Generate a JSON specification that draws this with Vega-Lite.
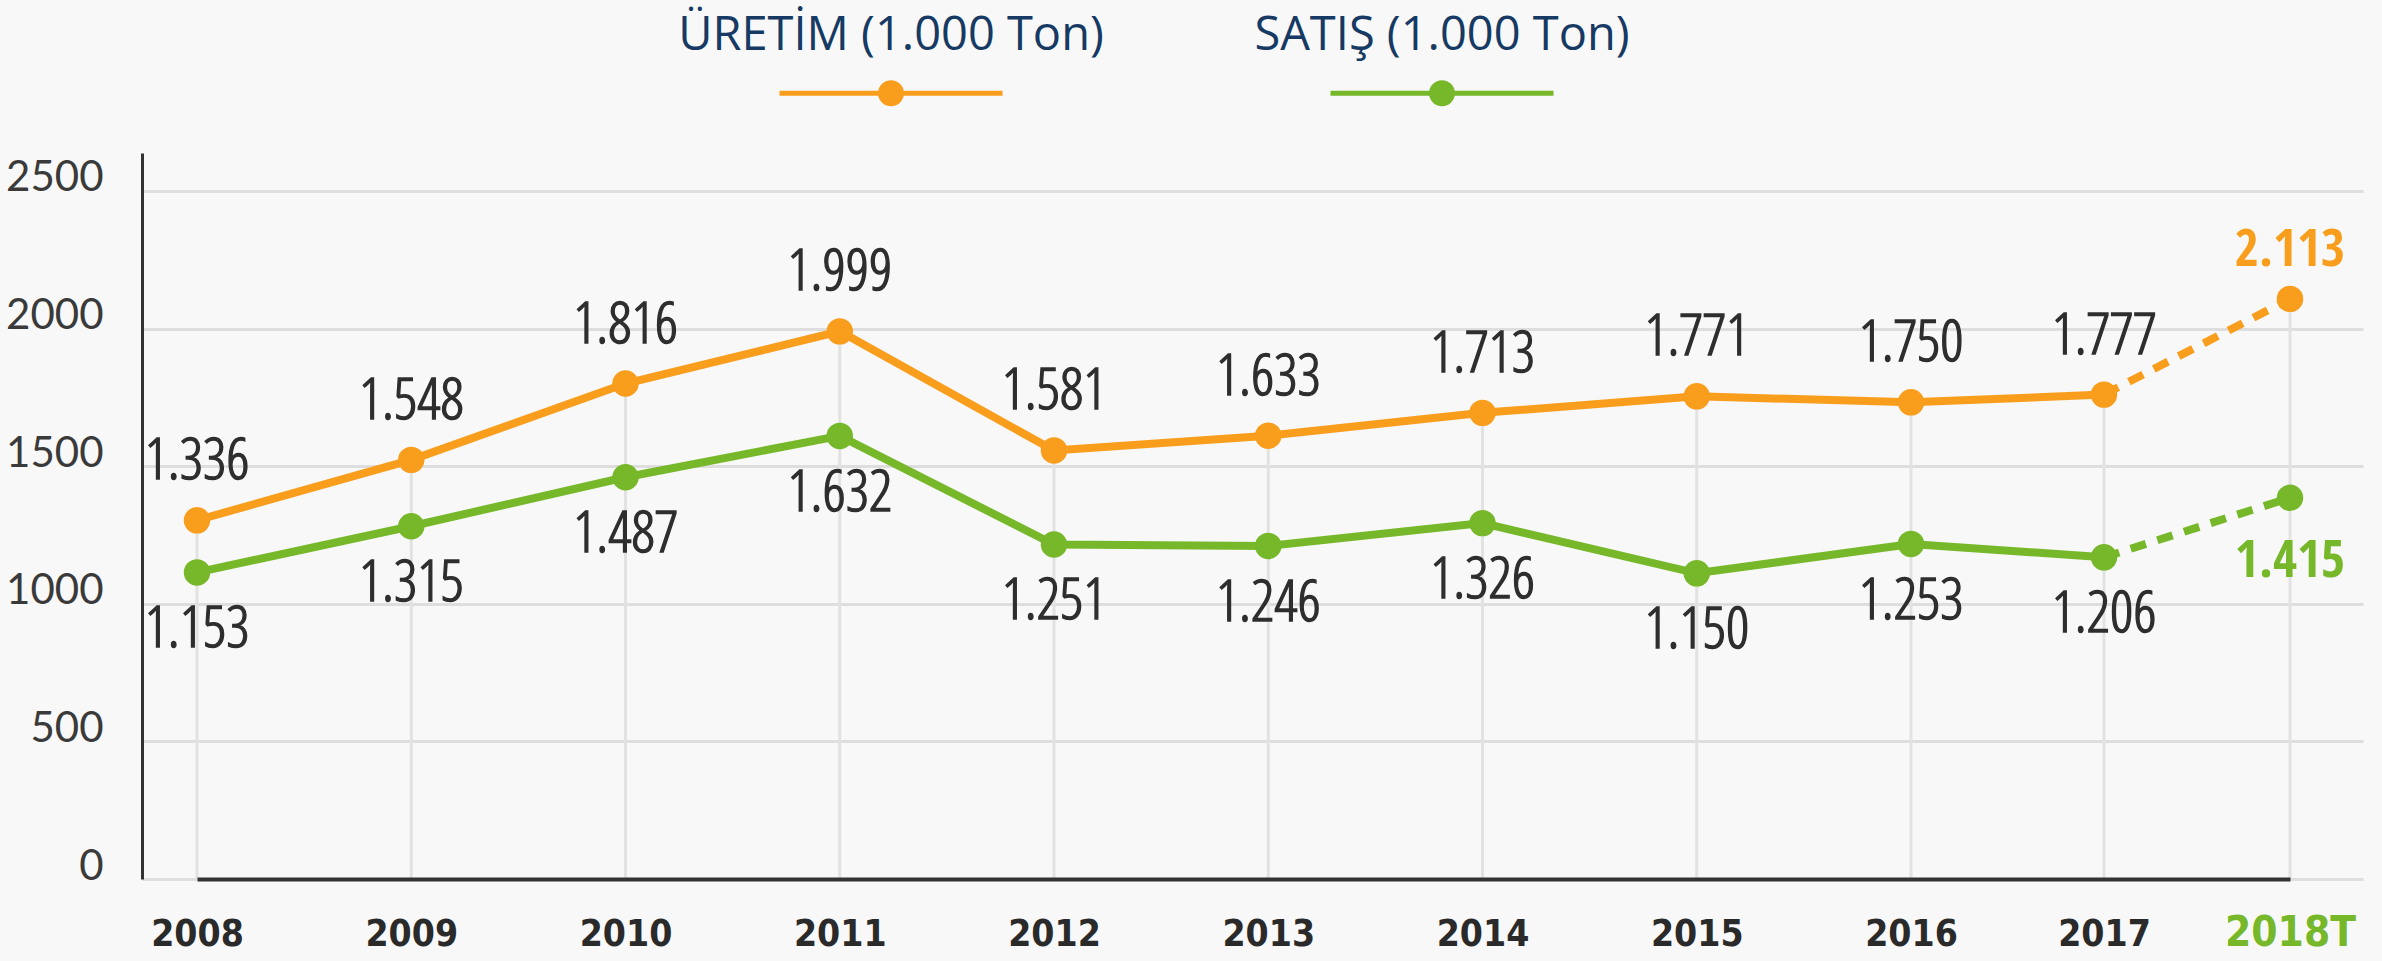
{
  "$schema": "https://vega.github.io/schema/vega-lite/v6.json",
  "width": 2221,
  "height": 726,
  "autosize": "none",
  "padding": {"left": 142, "top": 153, "right": 19, "bottom": 82},
  "background": "#f8f8f8",
  "config": {
    "view": {"stroke": null},
    "locale": {"number": {"decimal": ",", "thousands": ".", "grouping": [3], "currency": ["", ""]}}
  },
  "data": {
    "values": [
      {"yil": 2008, "seri": "ÜRETİM (1.000 Ton)", "deger": 1336},
      {"yil": 2009, "seri": "ÜRETİM (1.000 Ton)", "deger": 1548},
      {"yil": 2010, "seri": "ÜRETİM (1.000 Ton)", "deger": 1816},
      {"yil": 2011, "seri": "ÜRETİM (1.000 Ton)", "deger": 1999},
      {"yil": 2012, "seri": "ÜRETİM (1.000 Ton)", "deger": 1581},
      {"yil": 2013, "seri": "ÜRETİM (1.000 Ton)", "deger": 1633},
      {"yil": 2014, "seri": "ÜRETİM (1.000 Ton)", "deger": 1713},
      {"yil": 2015, "seri": "ÜRETİM (1.000 Ton)", "deger": 1771},
      {"yil": 2016, "seri": "ÜRETİM (1.000 Ton)", "deger": 1750},
      {"yil": 2017, "seri": "ÜRETİM (1.000 Ton)", "deger": 1777},
      {"yil": 2018, "seri": "ÜRETİM (1.000 Ton)", "deger": 2113},
      {"yil": 2008, "seri": "SATIŞ (1.000 Ton)", "deger": 1153},
      {"yil": 2009, "seri": "SATIŞ (1.000 Ton)", "deger": 1315},
      {"yil": 2010, "seri": "SATIŞ (1.000 Ton)", "deger": 1487},
      {"yil": 2011, "seri": "SATIŞ (1.000 Ton)", "deger": 1632},
      {"yil": 2012, "seri": "SATIŞ (1.000 Ton)", "deger": 1251},
      {"yil": 2013, "seri": "SATIŞ (1.000 Ton)", "deger": 1246},
      {"yil": 2014, "seri": "SATIŞ (1.000 Ton)", "deger": 1326},
      {"yil": 2015, "seri": "SATIŞ (1.000 Ton)", "deger": 1150},
      {"yil": 2016, "seri": "SATIŞ (1.000 Ton)", "deger": 1253},
      {"yil": 2017, "seri": "SATIŞ (1.000 Ton)", "deger": 1206},
      {"yil": 2018, "seri": "SATIŞ (1.000 Ton)", "deger": 1415}
    ]
  },
  "resolve": {"scale": {"y": "independent"}, "axis": {"y": "independent"}},
  "layer": [
    {
      "mark": {"type": "rule", "strokeOpacity": 0},
      "encoding": {
        "y": {
          "datum": 0,
          "type": "quantitative",
          "scale": {"domain": [0, 2638], "nice": false},
          "axis": {
            "values": [0, 500, 1000, 1500, 2000, 2500],
            "format": "d",
            "title": null,
            "grid": true,
            "gridColor": "#dedede",
            "gridWidth": 3,
            "ticks": false,
            "domain": true,
            "domainColor": "#333333",
            "domainWidth": 3,
            "labelFont": "Lato",
            "labelFontWeight": "normal",
            "labelFontSize": 42,
            "labelColor": "#3a3a3a",
            "labelBaseline": "alphabetic",
            "labelAlign": "right",
            "labelPadding": 39,
            "labelOverlap": false,
            "labelBound": false
          }
        }
      }
    },
    {
      "encoding": {
        "x": {
          "field": "yil",
          "type": "quantitative",
          "scale": {"domain": [2008, 2016, 2017, 2018], "range": [55, 1769, 1962, 2148]},
          "axis": {
            "values": [2008, 2009, 2010, 2011, 2012, 2013, 2014, 2015, 2016, 2017, 2018],
            "format": "d",
            "labelExpr": "datum.value == 2018 ? '2018T' : datum.label",
            "title": null,
            "grid": false,
            "ticks": false,
            "domain": true,
            "domainColor": "#333333",
            "domainWidth": 4,
            "labelFont": "DejaVu Sans Condensed",
            "labelFontWeight": "bold",
            "labelFontSize": {"condition": {"test": "datum.value == 2018", "value": 42}, "value": 37},
            "labelColor": {"condition": {"test": "datum.value == 2018", "value": "#76b82a"}, "value": "#2a2a2a"},
            "labelBaseline": "alphabetic",
            "labelPadding": 66,
            "labelFlush": false,
            "labelOverlap": false,
            "labelBound": false,
            "zindex": 1
          }
        },
        "y": {
          "field": "deger",
          "type": "quantitative",
          "scale": {"domain": [77, 2625], "nice": false, "zero": false},
          "axis": null
        },
        "color": {
          "field": "seri",
          "type": "nominal",
          "scale": {"domain": ["ÜRETİM (1.000 Ton)", "SATIŞ (1.000 Ton)"], "range": ["#f99d1c", "#76b82a"]},
          "legend": {
            "title": null,
            "orient": "none",
            "legendX": 635,
            "legendY": -231,
            "direction": "horizontal",
            "symbolType": "M-1,0.511L1,0.511M0.094,0.511A0.094,0.094,0,1,1,-0.094,0.511A0.094,0.094,0,1,1,0.094,0.511Z",
            "symbolSize": 49729,
            "symbolStrokeWidth": 5,
            "labelOffset": -114,
            "labelAlign": "center",
            "labelBaseline": "middle",
            "labelFont": "Open Sans",
            "labelFontSize": 47,
            "labelColor": "#163a63",
            "labelLimit": 1000,
            "columnPadding": 150,
            "encoding": {
              "symbols": {
                "update": {
                  "fill": {"scale": "color", "field": "value"},
                  "stroke": {"scale": "color", "field": "value"},
                  "strokeWidth": {"value": 5},
                  "opacity": {"value": 1}
                }
              }
            }
          }
        }
      },
      "layer": [
        {
          "transform": [{"filter": "datum.seri == 'ÜRETİM (1.000 Ton)'"}],
          "mark": {"type": "rule", "clip": true, "strokeWidth": 3},
          "encoding": {
            "y2": {"datum": 0},
            "color": {"value": "#e2e2e2"}
          }
        },
        {
          "transform": [{"filter": "datum.yil <= 2017"}],
          "mark": {"type": "line", "strokeWidth": 8}
        },
        {
          "transform": [{"filter": "datum.yil >= 2017"}],
          "mark": {"type": "line", "strokeWidth": 8, "strokeDash": [16, 12]}
        },
        {
          "mark": {"type": "point", "filled": true, "opacity": 1, "size": 700}
        },
        {
          "transform": [{"filter": "datum.seri == 'ÜRETİM (1.000 Ton)' && datum.yil < 2018"}],
          "mark": {
            "type": "text",
            "font": "Open Sans Condensed Light",
            "baseline": "middle",
            "dy": -58,
            "fontSize": 58,
            "stroke": "#2e2e2e",
            "strokeWidth": 1.4
          },
          "encoding": {
            "text": {"field": "deger", "type": "quantitative", "format": ",d"},
            "color": {"value": "#2e2e2e"}
          }
        },
        {
          "transform": [{"filter": "datum.seri == 'SATIŞ (1.000 Ton)' && datum.yil < 2018"}],
          "mark": {
            "type": "text",
            "font": "Open Sans Condensed Light",
            "baseline": "middle",
            "dy": 58,
            "fontSize": 58,
            "stroke": "#2e2e2e",
            "strokeWidth": 1.4
          },
          "encoding": {
            "text": {"field": "deger", "type": "quantitative", "format": ",d"},
            "color": {"value": "#2e2e2e"}
          }
        },
        {
          "transform": [{"filter": "datum.yil == 2018"}],
          "mark": {
            "type": "text",
            "font": "Open Sans Condensed",
            "fontWeight": "bold",
            "baseline": "middle",
            "dy": {"expr": "datum.seri == 'SATIŞ (1.000 Ton)' ? 63 : -49"},
            "fontSize": 52
          },
          "encoding": {
            "text": {"field": "deger", "type": "quantitative", "format": ",d"}
          }
        }
      ]
    }
  ]
}
